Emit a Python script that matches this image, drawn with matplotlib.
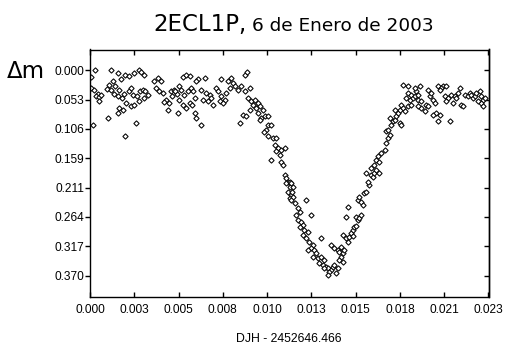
import matplotlib
matplotlib.use("Agg")
import matplotlib.pyplot as plt

# ---- data ----
t_pre = [0.00031, 0.00006, 0.00006, 0.00025, 0.00045, 0.00035, 0.00054, 0.00050, 0.00064, 0.00016,
         0.00122, 0.00161, 0.00180, 0.00205, 0.00228, 0.00257, 0.00282, 0.00296, 0.00315, 0.00132,
         0.00108, 0.00097, 0.00122, 0.00147, 0.00170, 0.00141, 0.00161, 0.00186, 0.00199, 0.00224,
         0.00238, 0.00248, 0.00271, 0.00290, 0.00306, 0.00321, 0.00334, 0.00315, 0.00170, 0.00161,
         0.00190, 0.00238, 0.00257, 0.00282, 0.00209, 0.00103, 0.00267, 0.00205, 0.00373, 0.00392,
         0.00412, 0.00383, 0.00398, 0.00421, 0.00441, 0.00431, 0.00460, 0.00470, 0.00489, 0.00503,
         0.00514, 0.00537, 0.00557, 0.00528, 0.00547, 0.00518, 0.00537, 0.00566, 0.00450, 0.00508,
         0.00557, 0.00475, 0.00494]
dm_pre = [-0.001, 0.013, 0.032, 0.035, 0.043, 0.047, 0.049, 0.056, 0.044, 0.098,
          -0.001, 0.005, 0.015, 0.008, 0.011, 0.005, -0.001, 0.003, 0.008, 0.019,
          0.026, 0.033, 0.035, 0.029, 0.035, 0.043, 0.047, 0.050, 0.043, 0.038,
          0.032, 0.044, 0.047, 0.038, 0.035, 0.038, 0.045, 0.050, 0.068, 0.077,
          0.071, 0.065, 0.062, 0.056, 0.059, 0.086, 0.095, 0.119, 0.020, 0.014,
          0.020, 0.032, 0.037, 0.041, 0.053, 0.057, 0.059, 0.038, 0.035, 0.043,
          0.029, 0.013, 0.009, 0.035, 0.044, 0.053, 0.062, 0.038, 0.071, 0.077,
          0.068, 0.047, 0.038]

t_ingress = [0.00578, 0.00626, 0.00616, 0.00665, 0.00761, 0.00819, 0.00800, 0.00829, 0.00897, 0.00912,
             0.00587, 0.00597, 0.00578, 0.00607, 0.00591, 0.00645, 0.00674, 0.00694, 0.00703, 0.00684,
             0.00713, 0.00655, 0.00732, 0.00742, 0.00761, 0.00781, 0.00752, 0.00771, 0.00790, 0.00810,
             0.00839, 0.00858, 0.00877, 0.00897, 0.00926, 0.00916, 0.00935, 0.00955, 0.00974, 0.00945,
             0.00964, 0.00984, 0.01003, 0.00926, 0.00887, 0.00906, 0.00974, 0.00993, 0.01013, 0.01032,
             0.00984, 0.00607, 0.00616, 0.00645, 0.00868, 0.01032, 0.01022, 0.01009, 0.01051, 0.01032,
             0.01061, 0.01080, 0.01071, 0.01090, 0.01109, 0.01080, 0.01100, 0.01129, 0.01051, 0.01109,
             0.01119, 0.01129, 0.01138, 0.01148, 0.01158, 0.01138, 0.01148, 0.01167, 0.01158]
dm_ingress = [0.011, 0.015, 0.020, 0.014, 0.015, 0.014, 0.020, 0.023, 0.008, 0.003,
              0.032, 0.038, 0.059, 0.050, 0.062, 0.035, 0.041, 0.044, 0.050, 0.056,
              0.062, 0.053, 0.032, 0.038, 0.047, 0.053, 0.056, 0.059, 0.041, 0.032,
              0.029, 0.035, 0.029, 0.038, 0.032, 0.050, 0.056, 0.053, 0.059, 0.062,
              0.068, 0.065, 0.071, 0.071, 0.080, 0.083, 0.077, 0.086, 0.083, 0.083,
              0.089, 0.077, 0.086, 0.098, 0.095, 0.098, 0.107, 0.111, 0.098, 0.119,
              0.122, 0.122, 0.134, 0.140, 0.143, 0.146, 0.152, 0.140, 0.161, 0.165,
              0.170, 0.189, 0.195, 0.201, 0.210, 0.204, 0.219, 0.225, 0.231]

t_minimum = [0.01158, 0.01167, 0.01177, 0.01171, 0.01177, 0.01167, 0.01187, 0.01254, 0.01206, 0.01216,
             0.01196, 0.01206, 0.01225, 0.01235, 0.01216, 0.01245, 0.01264, 0.01235, 0.01254, 0.01283,
             0.01341, 0.01274, 0.01293, 0.01283, 0.01303, 0.01264, 0.01312, 0.01293, 0.01322, 0.01341,
             0.01360, 0.01332, 0.01351, 0.01370, 0.01380, 0.01399, 0.01389, 0.01360, 0.01409, 0.01419,
             0.01438, 0.01428, 0.01380, 0.01399, 0.01419, 0.01438, 0.01448, 0.01457, 0.01467, 0.01477,
             0.01457, 0.01448, 0.01467, 0.01467, 0.01486, 0.01496, 0.01506, 0.01515, 0.01525, 0.01535,
             0.01544, 0.01525, 0.01486, 0.01496, 0.01544, 0.01554, 0.01563, 0.01573]
dm_minimum = [0.201, 0.204, 0.210, 0.219, 0.228, 0.234, 0.240, 0.234, 0.249, 0.255,
              0.261, 0.270, 0.273, 0.279, 0.282, 0.288, 0.291, 0.297, 0.303, 0.261,
              0.303, 0.309, 0.315, 0.321, 0.324, 0.324, 0.330, 0.336, 0.339, 0.336,
              0.342, 0.348, 0.351, 0.354, 0.357, 0.360, 0.363, 0.357, 0.354, 0.351,
              0.357, 0.366, 0.369, 0.315, 0.321, 0.324, 0.327, 0.318, 0.330, 0.324,
              0.336, 0.342, 0.345, 0.297, 0.303, 0.309, 0.300, 0.294, 0.288, 0.282,
              0.281, 0.299, 0.264, 0.246, 0.264, 0.270, 0.267, 0.261]

t_egress = [0.01554, 0.01563, 0.01573, 0.01583, 0.01592, 0.01602, 0.01621, 0.01612, 0.01602, 0.01631,
            0.01641, 0.01650, 0.01660, 0.01679, 0.01631, 0.01650, 0.01660, 0.01670, 0.01689, 0.01679,
            0.01710, 0.01720, 0.01729, 0.01739, 0.01720, 0.01729, 0.01749, 0.01758, 0.01768, 0.01739,
            0.01778, 0.01787, 0.01797, 0.01807, 0.01768, 0.01797, 0.01807, 0.01816, 0.01826, 0.01845,
            0.01865, 0.01855, 0.01836, 0.01845, 0.01865, 0.01874, 0.01884, 0.01903, 0.01894, 0.01816,
            0.01845, 0.01884, 0.01913, 0.01903, 0.01923, 0.01923, 0.01942, 0.01952, 0.01961, 0.01971,
            0.01981, 0.01961, 0.01990, 0.02000, 0.02010, 0.02029, 0.02019, 0.02087]
dm_egress = [0.234, 0.228, 0.237, 0.243, 0.222, 0.219, 0.207, 0.201, 0.185, 0.189,
             0.192, 0.185, 0.180, 0.185, 0.176, 0.170, 0.161, 0.155, 0.149, 0.165,
             0.143, 0.131, 0.122, 0.116, 0.110, 0.107, 0.098, 0.092, 0.089, 0.086,
             0.083, 0.077, 0.071, 0.062, 0.071, 0.095, 0.098, 0.068, 0.074, 0.065,
             0.062, 0.053, 0.050, 0.041, 0.044, 0.050, 0.047, 0.044, 0.038, 0.026,
             0.029, 0.032, 0.029, 0.053, 0.056, 0.068, 0.074, 0.062, 0.065, 0.047,
             0.041, 0.035, 0.053, 0.059, 0.077, 0.080, 0.092, 0.092]

t_post = [0.02019, 0.02048, 0.02068, 0.02039, 0.02029, 0.02058, 0.02077, 0.02097, 0.02116, 0.02135,
          0.02145, 0.02126, 0.02155, 0.02164, 0.02174, 0.02193, 0.02203, 0.02213, 0.02222, 0.02232,
          0.02242, 0.02261, 0.02271, 0.02280, 0.02290, 0.02271, 0.02251, 0.02280, 0.02068, 0.02106,
          0.01903, 0.01990]
dm_post = [0.029, 0.029, 0.029, 0.032, 0.035, 0.047, 0.050, 0.044, 0.047, 0.041,
           0.032, 0.050, 0.062, 0.065, 0.044, 0.047, 0.041, 0.044, 0.050, 0.047,
           0.041, 0.038, 0.047, 0.053, 0.050, 0.059, 0.056, 0.065, 0.056, 0.059,
           0.065, 0.080]

x_ticks = [0.0, 0.00257, 0.00514, 0.00771, 0.01028, 0.01285, 0.01542, 0.01799, 0.02056, 0.02313]
x_labels = ["0.000", "0.003", "0.005", "0.008", "0.010", "0.013", "0.015", "0.018", "0.021", "0.023"]
y_ticks = [0.0, 0.05285, 0.1057, 0.15855, 0.2114, 0.26425, 0.3171, 0.36995]
y_labels = ["0.000", "0.053", "0.106", "0.159", "0.211", "0.264", "0.317", "0.370"]

title_main = "2ECL1P,"
title_date = "6 de Enero de 2003"
x_title = "DJH - 2452646.466"
y_title = "\u0394m"

# ---- figure ----
W, H = 519, 353
fig = plt.figure(figsize=(W / 100, H / 100), dpi=100)
fig.patch.set_facecolor("white")
ax = fig.add_axes([90 / W, (H - 297) / H, 398.5 / W, (297 - 49.5) / H])

for t, d in [(t_pre, dm_pre), (t_ingress, dm_ingress), (t_minimum, dm_minimum),
             (t_egress, dm_egress), (t_post, dm_post)]:
    ax.plot(t, d, linestyle="none", marker="D", markersize=2.7,
            markerfacecolor="white", markeredgecolor="black", markeredgewidth=0.75)

ax.set_xlim(0.0, 0.02313)
ax.set_ylim(0.4086, -0.0374)
ax.set_xticks(x_ticks)
ax.set_xticklabels(x_labels)
ax.set_yticks(y_ticks)
ax.set_yticklabels(y_labels)

for lab in ax.get_xticklabels() + ax.get_yticklabels():
    lab.set_fontfamily("Liberation Sans")
    lab.set_fontsize(8.6)

# bottom/top ticks point inward, left ticks point outward
ax.tick_params(axis="x", which="major", direction="in", length=3.6, width=1,
               top=True, bottom=True, labeltop=False, pad=5, colors="black")
ax.tick_params(axis="y", which="major", direction="out", length=3.3, width=1,
               left=True, right=False, pad=0.5, colors="black")
# right-hand ticks pointing inward
sec = ax.secondary_yaxis("right")
sec.set_yticks(y_ticks)
sec.tick_params(axis="y", direction="in", length=3.6, width=1, labelright=False)
sec.spines["right"].set_linewidth(1.0)

for s in ax.spines.values():
    s.set_linewidth(1.0)
    s.set_color("black")

ax.set_xlabel(x_title, fontfamily="Liberation Sans", fontsize=8.8, labelpad=12)

base_y = 1 - 30.7 / H
t1 = fig.text(153 / W, base_y, title_main, fontfamily="DejaVu Sans", fontsize=16.5,
              ha="left", va="baseline")
fig.canvas.draw()
bb = t1.get_window_extent(renderer=fig.canvas.get_renderer())
fig.text(bb.x1 / W + 6 / W, base_y, title_date, fontfamily="DejaVu Sans", fontsize=13.3,
         ha="left", va="baseline")
fig.text(7 / W, 1 - 77.5 / H, y_title, fontfamily="DejaVu Sans", fontsize=16.5,
         ha="left", va="baseline")

fig.savefig("out.png", dpi=100, facecolor="white")
